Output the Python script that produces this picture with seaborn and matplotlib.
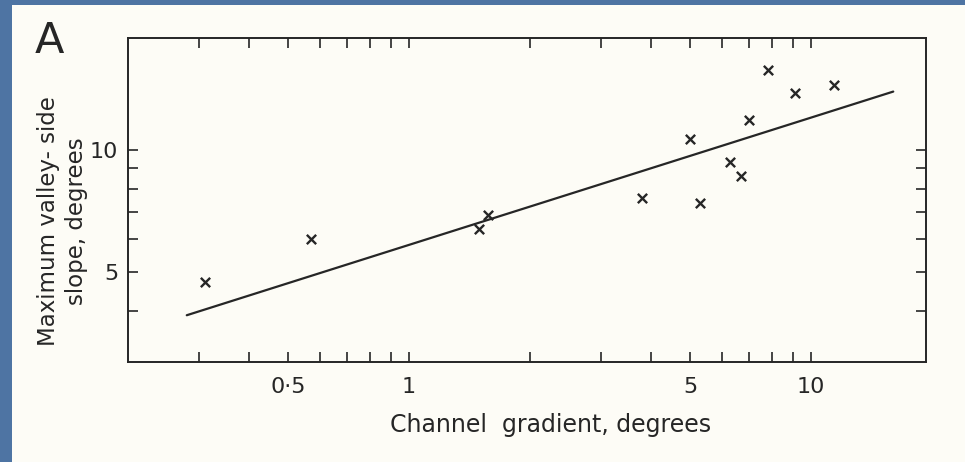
import matplotlib
matplotlib.use("Agg")
import matplotlib.pyplot as plt
import matplotlib.ticker as mticker
from matplotlib.patches import Rectangle
import seaborn as sns
import pandas as pd

# values (log-log axes)
gradient = [0.31, 0.57, 1.49, 1.57, 3.8, 5.0, 5.3, 6.3, 6.7, 7.0, 7.8, 9.1, 11.4]
valley_slope = [4.7, 6.0, 6.35, 6.9, 7.6, 10.6, 7.4, 9.3, 8.6, 11.8, 15.7, 13.8, 14.4]

# fitted line end points
fit_x = [0.28, 16.0]
fit_y = [3.9, 13.9]

x_ticks = [0.3, 0.4, 0.5, 0.6, 0.7, 0.8, 0.9, 1, 2, 3, 4, 5, 6, 7, 8, 9, 10]
x_ticklabels = {0.5: '0·5', 1: '1', 5: '5', 10: '10'}
y_ticks = [4, 5, 6, 7, 8, 9, 10]
y_ticklabels = {5: '5', 10: '10'}

pts = pd.DataFrame({'gradient': gradient, 'slope': valley_slope})
fit = pd.DataFrame({'gradient': fit_x, 'slope': fit_y})

sns.set_style("ticks")
plt.rcParams['font.family'] = ['DejaVu Sans']

ink = '#262626'
paper = '#fdfcf6'

fig = plt.figure(figsize=(9.65, 4.62), dpi=100, facecolor='#4e74a3')
fig.patches.append(Rectangle((12/965, 0), 1, 457/462, transform=fig.transFigure,
                             facecolor=paper, edgecolor='none', zorder=-5))
ax = fig.add_axes([128/965, 1 - 362/462, 798/965, 324.5/462])
ax.set_facecolor(paper)
ax.set_zorder(2)

sns.lineplot(data=fit, x='gradient', y='slope', color=ink, linewidth=1.6, ax=ax)
sns.scatterplot(data=pts, x='gradient', y='slope', marker='x', s=45,
                color=ink, linewidth=1.7, ax=ax, zorder=3)

ax.set_xscale('log')
ax.set_yscale('log')
ax.set_xlim(0.2, 19.3)
ax.set_ylim(2.99, 18.9)

ax.xaxis.set_major_locator(mticker.FixedLocator(x_ticks))
ax.xaxis.set_minor_locator(mticker.NullLocator())
ax.set_xticklabels([x_ticklabels.get(t, '') for t in x_ticks])
ax.yaxis.set_major_locator(mticker.FixedLocator(y_ticks))
ax.yaxis.set_minor_locator(mticker.NullLocator())
ax.set_yticklabels([y_ticklabels.get(t, '') for t in y_ticks])

ax.tick_params(axis='both', which='both', direction='in', length=7.5, width=1.2,
               colors=ink, labelsize=16, top=True, right=True)
ax.tick_params(axis='x', pad=11)
ax.tick_params(axis='y', pad=7)
for sp in ax.spines.values():
    sp.set_color(ink)
    sp.set_linewidth(1.4)

ax.set_xlabel('Channel  gradient, degrees', fontsize=17, color=ink)
ax.xaxis.set_label_coords(0.530, -0.157)
ax.set_ylabel('Maximum valley- side\nslope, degrees', fontsize=16.5, color=ink,
              linespacing=1.3)
ax.yaxis.set_label_coords(-0.050, 0.434)

fig.text(35/965, 1 - 53/462, 'A', fontsize=31, color=ink, ha='left', va='baseline')

fig.savefig('out.png', dpi=100, facecolor=fig.get_facecolor())
